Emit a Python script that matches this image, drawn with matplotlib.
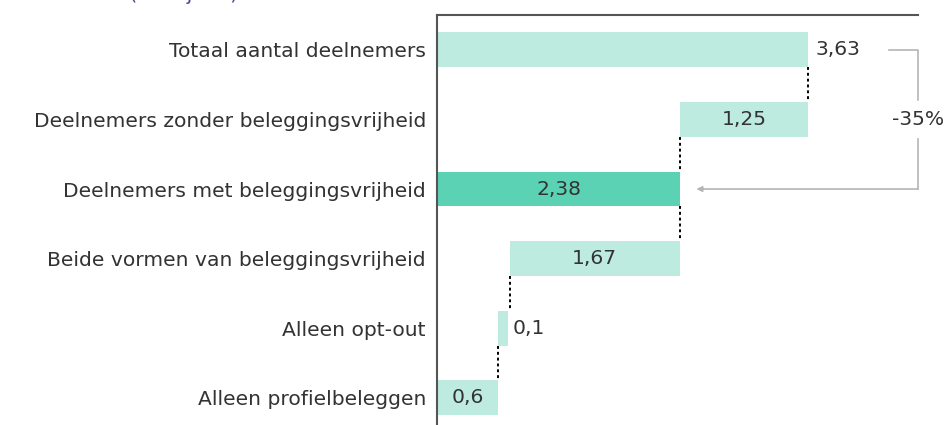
import matplotlib
matplotlib.use("Agg")
import matplotlib.pyplot as plt

plt.rcParams['font.family'] = ['DejaVu Sans']

categories = [
    "Totaal aantal deelnemers",
    "Deelnemers zonder beleggingsvrijheid",
    "Deelnemers met beleggingsvrijheid",
    "Beide vormen van beleggingsvrijheid",
    "Alleen opt-out",
    "Alleen profielbeleggen",
]
values = [3.63, 1.25, 2.38, 1.67, 0.1, 0.6]
labels = ["3,63", "1,25", "2,38", "1,67", "0,1", "0,6"]
change_label = "-35%"
title_text = "Deelnemers (x miljoen)"

# waterfall bases: total, minus those without freedom, subtotal, then the split
bases = [0.0,
         values[0] - values[1],
         0.0,
         values[2] - values[3],
         values[5],
         0.0]

light = "#BEEBDF"
dark = "#5CD2B5"
colors = [light, light, dark, light, light, light]
text_col = "#333333"
fs = 14.6

fig = plt.figure(figsize=(9.52, 4.25), dpi=100)
ax = fig.add_axes([437 / 952, 0.0, (918 - 437) / 952, 1 - 15 / 425])

ypos = list(range(len(categories)))
ax.barh(ypos, values, left=bases, height=0.5, color=colors, edgecolor="none", zorder=2)

ax.set_xlim(0, 4.71)
ax.set_ylim(5.39, -0.5)
ax.set_yticks(ypos)
ax.set_yticklabels(categories, fontsize=fs, color=text_col)
ax.tick_params(axis="y", length=0, pad=8)
ax.set_xticks([])

for s in ["right", "bottom"]:
    ax.spines[s].set_visible(False)
for s in ["left", "top"]:
    ax.spines[s].set_color("#555555")
    ax.spines[s].set_linewidth(1.5)

# value labels
for i, (b, v, lab) in enumerate(zip(bases, values, labels)):
    if i == 0:
        ax.text(b + v + 0.08, i, lab, ha="left", va="center", fontsize=fs, color=text_col)
    elif v < 0.3:
        ax.text(b + v + 0.04, i, lab, ha="left", va="center", fontsize=fs, color=text_col, zorder=3)
    else:
        ax.text(b + v / 2, i, lab, ha="center", va="center", fontsize=fs, color=text_col, zorder=3)

# dotted connectors between consecutive bars
half = 0.25
conn = [
    (values[0], 0, 1),
    (bases[1], 1, 2),
    (values[2], 2, 3),
    (bases[3], 3, 4),
    (bases[4], 4, 5),
]
for x, r0, r1 in conn:
    ax.plot([x, x], [r0 + half, r1 - half], color="black", lw=1.4,
            linestyle=(0, (1.5, 1.5)), zorder=3)

# bracket showing the relative change
gray = "#b5b5b5"
xb0, xb1, xarrow = 4.43, 4.71, 2.54
ax.plot([xb0, xb1, xb1], [0, 0, 0.72], color=gray, lw=1.2, clip_on=False)
ax.plot([xb1, xb1], [1.28, 2], color=gray, lw=1.2, clip_on=False)
ax.annotate("", xy=(xarrow, 2), xytext=(xb1, 2),
            arrowprops=dict(arrowstyle="-|>", color=gray, lw=1.2,
                            mutation_scale=8, shrinkA=0, shrinkB=0),
            annotation_clip=False)
ax.text(xb1, 1, change_label, ha="center", va="center", fontsize=fs,
        color=text_col, clip_on=False)

# heading sits above the visible area
fig.text(0.0, 1.0, title_text, ha="left", va="baseline",
         fontsize=fs, color="#5a3d9a")

fig.savefig("out.png", dpi=100)
